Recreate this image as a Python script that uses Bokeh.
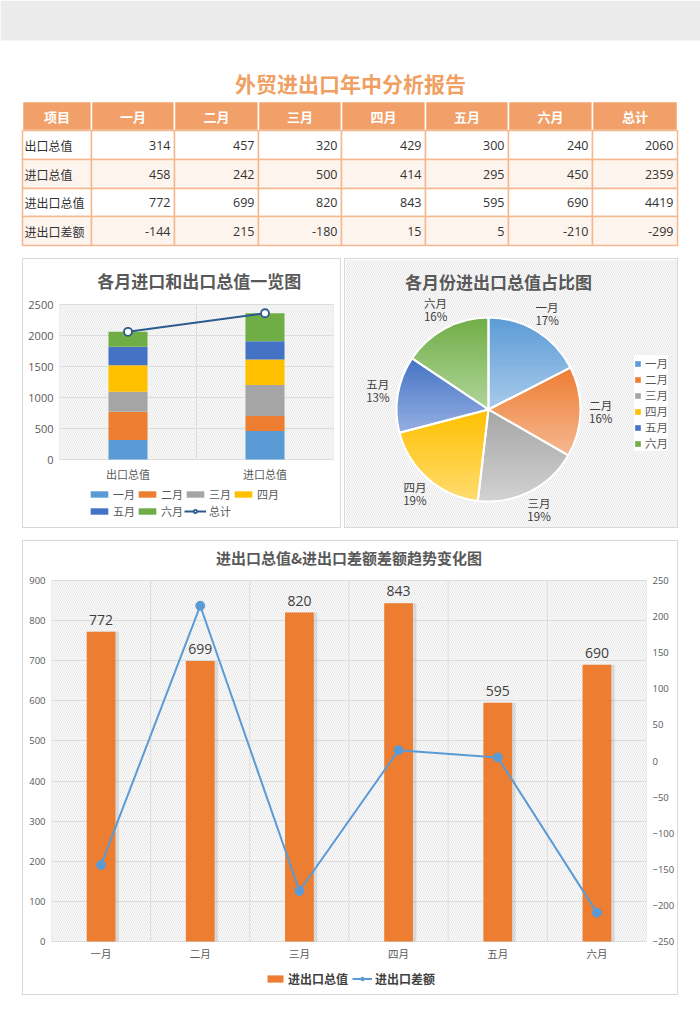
import math
from bokeh.plotting import figure
from bokeh.models import (Range1d, FixedTicker, BoxAnnotation, Legend, LegendItem,
                          LinearAxis, ColumnDataSource, Spacer)
from bokeh.layouts import column, row
from bokeh.core.properties import value
from bokeh.transform import dodge
from bokeh.embed import file_html
from bokeh.resources import INLINE

FONT = "Noto Sans CJK SC"

# ---------------- data ----------------
months = ["一月", "二月", "三月", "四月", "五月", "六月"]
export_vals = [314, 457, 320, 429, 300, 240]
import_vals = [458, 242, 500, 414, 295, 450]
total_vals = [772, 699, 820, 843, 595, 690]
diff_vals = [-144, 215, -180, 15, 5, -210]
row_names = ["出口总值", "进口总值", "进出口总值", "进出口差额"]
row_sums = [2060, 2359, 4419, -299]
header_labels = ["项目"] + months + ["总计"]
stack_cats = ["出口总值", "进口总值"]
stack_totals = [2060, 2359]

month_colors = ["#5b9bd5", "#ed7d31", "#a5a5a5", "#ffc000", "#4472c4", "#70ad47"]
month_light = ["#a9cbeb", "#f6b892", "#d2d2d2", "#ffdc70", "#96b0e2", "#b0d69a"]

ORANGE_HEAD = "#f2a06a"
ORANGE_LINE = "#f5b88e"
GRID = "#dcdcdc"
TXT = "#595959"


def clean(p):
    p.axis.visible = False
    p.grid.visible = False
    p.outline_line_color = None


def style_axis(ax, font, size):
    ax.axis_line_color = None
    ax.major_tick_line_color = None
    ax.minor_tick_line_color = None
    ax.major_tick_out = 0
    ax.major_tick_in = 0
    ax.minor_tick_out = 0
    ax.minor_tick_in = 0
    ax.major_label_text_font = font
    ax.major_label_text_color = TXT
    ax.major_label_text_font_size = size
    ax.major_label_standoff = 6


def hatch_box(lo=None, hi=None):
    kw = {}
    if lo is not None:
        kw["bottom"] = lo
        kw["top"] = hi
    return BoxAnnotation(fill_color="#f8f8f8", hatch_pattern="left_diagonal_line",
                         hatch_color="#dadada", hatch_scale=4, hatch_weight=0.6,
                         line_color=None, level="image", **kw)


def framed(fig):
    inner = column(fig, styles={"background-color": "white"})
    return column(Spacer(height=1),
                  row(Spacer(width=1), inner, Spacer(width=1)),
                  Spacer(height=1),
                  styles={"background-color": "#d9d9d9"})


def padded_range(lo, hi, plot_px, top_px, bottom_px):
    upp = (hi - lo) / plot_px
    return Range1d(lo - bottom_px * upp, hi + top_px * upp)


# ---------------- top: band, title, table ----------------
top = figure(width=700, height=258, x_range=Range1d(0, 700), y_range=Range1d(258, 0),
             output_backend="svg", toolbar_location=None, min_border=0)
clean(top)
top.quad(left=[0], right=[700], top=[0], bottom=[40], fill_color="#ebebeb", line_color=None)
top.text(x=[350], y=[82], text=["外贸进出口年中分析报告"], text_font=value(FONT),
         text_font_size="21px", text_font_style="bold", text_color="#f0a062",
         text_align="center", text_baseline="middle")

col_edges = [22, 91, 174, 258, 341, 425, 508, 592, 677]
row_edges = [101, 130, 159, 188, 216, 245]

table_rows = []
for name, vals, s in zip(row_names, [export_vals, import_vals, total_vals, diff_vals], row_sums):
    table_rows.append([name] + [str(v) for v in vals] + [str(s)])

hl, hr, ht, hb = [], [], [], []
for c in range(len(header_labels)):
    hl.append(col_edges[c]); hr.append(col_edges[c + 1])
    ht.append(row_edges[0]); hb.append(row_edges[1])
top.quad(left=hl, right=hr, top=ht, bottom=hb, fill_color=ORANGE_HEAD, line_color="white", line_width=1.5)
top.text(x=[(col_edges[c] + col_edges[c + 1]) / 2 for c in range(len(header_labels))],
         y=[(row_edges[0] + row_edges[1]) / 2] * len(header_labels), text=header_labels,
         text_font=value(FONT), text_font_size="13px", text_font_style="bold",
         text_color="white", text_align="center", text_baseline="middle")

bl, br, bt, bb, bf = [], [], [], [], []
for r in range(len(table_rows)):
    for c in range(len(header_labels)):
        bl.append(col_edges[c]); br.append(col_edges[c + 1])
        bt.append(row_edges[r + 1]); bb.append(row_edges[r + 2])
        bf.append("white" if r % 2 == 0 else "#fdf4ee")
top.quad(left=bl, right=br, top=bt, bottom=bb, fill_color=bf, line_color=ORANGE_LINE, line_width=1.5)

name_x, name_y, name_t = [], [], []
num_x, num_y, num_t = [], [], []
for r, cells in enumerate(table_rows):
    yc = (row_edges[r + 1] + row_edges[r + 2]) / 2
    name_x.append(col_edges[0] + 2); name_y.append(yc); name_t.append(cells[0])
    for c in range(1, len(cells)):
        num_x.append(col_edges[c + 1] - 4); num_y.append(yc); num_t.append(cells[c])
top.text(x=name_x, y=name_y, text=name_t, text_font=value(FONT), text_font_size="12px",
         text_color="#333333", text_align="left", text_baseline="middle")
top.text(x=num_x, y=num_y, text=num_t, text_font=value("Open Sans"), text_font_size="12.5px",
         text_color="#333333", text_align="right", text_baseline="middle")

# ---------------- left: stacked bar ----------------
LC_YMAX = 2500
lc_x = list(range(len(stack_cats)))
lc = figure(width=317, height=268, x_range=Range1d(-0.5, len(stack_cats) - 0.5),
            y_range=padded_range(0, LC_YMAX, 155, 45, 68),
            output_backend="svg", toolbar_location=None,
            min_border_left=36, min_border_right=7, min_border_top=0, min_border_bottom=0)
lc.outline_line_color = None
lc.background_fill_color = "white"
lc.border_fill_color = "white"
lc.xaxis.visible = False
lc.xgrid.visible = False
lc.add_layout(hatch_box(0, LC_YMAX))
lc.segment(x0=[i - 0.5 for i in range(len(stack_cats) + 1)], x1=[i - 0.5 for i in range(len(stack_cats) + 1)],
           y0=0, y1=LC_YMAX, line_color=GRID, line_width=1)
src = {"x": lc_x}
for i, m in enumerate(months):
    src[m] = [export_vals[i], import_vals[i]]
srs = lc.vbar_stack(months, x="x", width=0.285, color=month_colors, source=ColumnDataSource(src),
                    line_color=None)
tl = lc.line(x=lc_x, y=stack_totals, line_color="#2a5a8e", line_width=2)
tp = lc.scatter(x=lc_x, y=stack_totals, marker="circle", size=8,
                fill_color="white", line_color="#2a5a8e", line_width=1.8)
lc.yaxis.ticker = FixedTicker(ticks=list(range(0, LC_YMAX + 1, 500)))
style_axis(lc.yaxis[0], "Open Sans", "11px")
lc.ygrid.grid_line_color = GRID
lc.text(x=lc_x, y=[0] * len(lc_x), text=stack_cats, y_offset=14, text_font=value(FONT),
        text_font_size="11px", text_color=TXT, text_align="center", text_baseline="middle")
lc.text(x=[0.52], y=[LC_YMAX + 24 * LC_YMAX / 155], text=["各月进口和出口总值一览图"],
        text_font=value(FONT), text_font_size="17px", text_font_style="bold", text_color=TXT,
        text_align="center", text_baseline="middle")
items = [LegendItem(label=m, renderers=[r]) for m, r in zip(months, srs)]
items.append(LegendItem(label="总计", renderers=[tl, tp]))
lleg = Legend(items=items, orientation="horizontal", ncols=4, location=(29, 8),
              border_line_color=None, background_fill_alpha=0, label_text_font=FONT,
              label_text_font_size="11px", label_text_color=TXT, glyph_width=22, glyph_height=8,
              label_height=12, spacing=1, padding=2, margin=0, label_standoff=3)
lc.add_layout(lleg)

# ---------------- right: pie ----------------
pc = figure(width=332, height=268, x_range=Range1d(-143, 189), y_range=Range1d(-118, 150),
            output_backend="svg", toolbar_location=None, min_border=0)
clean(pc)
pc.add_layout(hatch_box())
R = 92
grand = sum(total_vals)
cum = [0]
for v in total_vals:
    cum.append(cum[-1] + v / grand)
starts = [math.pi / 2 - c * 2 * math.pi for c in cum[:-1]]
ends = [math.pi / 2 - c * 2 * math.pi for c in cum[1:]]

base = pc.wedge(x=0, y=0, radius=R, start_angle=starts, end_angle=ends, direction="clock",
                fill_color=month_colors, line_color=None)


def hex2rgb(h):
    h = h.lstrip("#")
    return tuple(int(h[i:i + 2], 16) for i in (0, 2, 4))


def mix(a, b, t):
    ca, cb = hex2rgb(a), hex2rgb(b)
    return "#%02x%02x%02x" % tuple(int(round(ca[k] + (cb[k] - ca[k]) * t)) for k in range(3))


def clip(pts, keep, yc):
    out = []
    n = len(pts)
    for i in range(n):
        cur, prev = pts[i], pts[i - 1]

        def inter(p, q):
            t = (yc - p[1]) / (q[1] - p[1])
            return (p[0] + t * (q[0] - p[0]), yc)
        if keep(cur):
            if not keep(prev):
                out.append(inter(prev, cur))
            out.append(cur)
        elif keep(prev):
            out.append(inter(prev, cur))
    return out


sx, sy, sc = [], [], []
NB = 28
for i in range(len(total_vals)):
    a0, a1 = starts[i], ends[i]
    steps = 60
    poly = [(0.0, 0.0)] + [(R * math.cos(a0 + (a1 - a0) * k / steps), R * math.sin(a0 + (a1 - a0) * k / steps))
                           for k in range(steps + 1)]
    ymax = max(p[1] for p in poly)
    ymin = min(p[1] for p in poly)
    h = (ymax - ymin) / NB
    for b in range(NB):
        yhi = ymax - b * h + 0.3
        ylo = ymax - (b + 1) * h - 0.3
        pts = clip(poly, lambda p, yl=ylo: p[1] >= yl, ylo)
        if pts:
            pts = clip(pts, lambda p, yh=yhi: p[1] <= yh, yhi)
        if len(pts) >= 3:
            sx.append([p[0] for p in pts]); sy.append([p[1] for p in pts])
            sc.append(mix(month_colors[i], month_light[i], (b + 0.5) / NB))
pc.patches(xs=sx, ys=sy, fill_color=sc, line_color=None)
pc.wedge(x=0, y=0, radius=R, start_angle=starts, end_angle=ends, direction="clock",
         fill_alpha=0, line_color="white", line_width=2)

lab_x, lab_y, pct_t = [], [], []
for i in range(len(total_vals)):
    mid = (starts[i] + ends[i]) / 2
    lab_x.append(1.22 * R * math.cos(mid)); lab_y.append(1.22 * R * math.sin(mid))
    pct_t.append("%d%%" % round(total_vals[i] / grand * 100))
pc.text(x=lab_x, y=lab_y, text=months, y_offset=-7, text_font=value(FONT), text_font_size="11.5px",
        text_color="#404040", text_align="center", text_baseline="middle")
pc.text(x=lab_x, y=lab_y, text=pct_t, y_offset=6, text_font=value(FONT), text_font_size="11.5px",
        text_color="#404040", text_align="center", text_baseline="middle")
pc.text(x=[10], y=[128], text=["各月份进出口总值占比图"], text_font=value(FONT), text_font_size="17px",
        text_font_style="bold", text_color=TXT, text_align="center", text_baseline="middle")
pleg = Legend(items=[LegendItem(label=m, renderers=[base], index=i) for i, m in enumerate(months)],
              location=(289, 76), border_line_color=None, background_fill_color="white",
              background_fill_alpha=1, label_text_font=FONT, label_text_font_size="11.5px",
              label_text_color=TXT, glyph_width=7, glyph_height=7, label_height=12, spacing=0,
              padding=4, margin=0, label_standoff=4)
pc.add_layout(pleg)

# ---------------- bottom: combo ----------------
BC_YMAX = 900
DIFF_LO, DIFF_HI = -250, 250
xs = list(range(len(months)))
bc = figure(width=654, height=453, x_range=Range1d(-0.5, len(months) - 0.5),
            y_range=padded_range(0, BC_YMAX, 361, 39, 53),
            output_backend="svg", toolbar_location=None,
            min_border_left=28, min_border_right=31, min_border_top=0, min_border_bottom=0)
bc.outline_line_color = None
bc.background_fill_color = "white"
bc.border_fill_color = "white"
bc.xaxis.visible = False
bc.xgrid.visible = False
bc.add_layout(hatch_box(0, BC_YMAX))
bc.extra_y_ranges = {"diff": padded_range(DIFF_LO, DIFF_HI, 361, 39, 53)}
bc.add_layout(LinearAxis(y_range_name="diff", ticker=FixedTicker(ticks=list(range(DIFF_LO, DIFF_HI + 1, 50)))), "right")
bc.segment(x0=[i - 0.5 for i in range(len(months) + 1)], x1=[i - 0.5 for i in range(len(months) + 1)],
           y0=0, y1=BC_YMAX, line_color=GRID, line_width=1)
bsrc = ColumnDataSource({"x": xs, "top": total_vals, "lab": [str(v) for v in total_vals]})
bc.vbar(x=dodge("x", 0.035, range=bc.x_range), top="top", width=0.29, source=bsrc,
        fill_color="#000000", fill_alpha=0.10, line_color=None)
bars = bc.vbar(x="x", top="top", width=0.29, source=bsrc, fill_color="#ed7d31", line_color=None)
bc.text(x="x", y="top", text="lab", source=bsrc, y_offset=-7, text_font=value("Open Sans"),
        text_font_size="14px", text_color="#404040", text_align="center", text_baseline="bottom")
dl = bc.line(x=xs, y=diff_vals, y_range_name="diff", line_color="#5b9bd5", line_width=2)
dp = bc.scatter(x=xs, y=diff_vals, y_range_name="diff", marker="circle", size=9,
                fill_color="#5b9bd5", line_color="#5b9bd5")
bc.yaxis[0].ticker = FixedTicker(ticks=list(range(0, BC_YMAX + 1, 100)))
for ax in bc.yaxis:
    style_axis(ax, "Open Sans", "9.5px")
bc.ygrid.grid_line_color = GRID
bc.text(x=xs, y=[0] * len(xs), text=months, y_offset=12, text_font=value(FONT),
        text_font_size="10.5px", text_color=TXT, text_align="center", text_baseline="middle")
bc.text(x=[(len(months) - 1) / 2], y=[BC_YMAX + 23 * BC_YMAX / 361], text=["进出口总值&进出口差额差额趋势变化图"],
        text_font=value(FONT), text_font_size="15px", text_font_style="bold", text_color=TXT,
        text_align="center", text_baseline="middle")
bleg = Legend(items=[LegendItem(label="进出口总值", renderers=[bars]),
                     LegendItem(label="进出口差额", renderers=[dl, dp])],
              orientation="horizontal", location=(214, 7), border_line_color=None,
              background_fill_alpha=0, label_text_font=FONT, label_text_font_size="12px",
              label_text_font_style="bold", label_text_color="#404040", glyph_width=20,
              glyph_height=9, label_height=12, spacing=4, padding=2, margin=0, label_standoff=3)
bc.add_layout(bleg)

layout = column(top,
                row(Spacer(width=22), framed(lc), Spacer(width=3), framed(pc)),
                Spacer(height=12),
                row(Spacer(width=22), framed(bc)))

open("out.html", "w").write(file_html(layout, INLINE))
